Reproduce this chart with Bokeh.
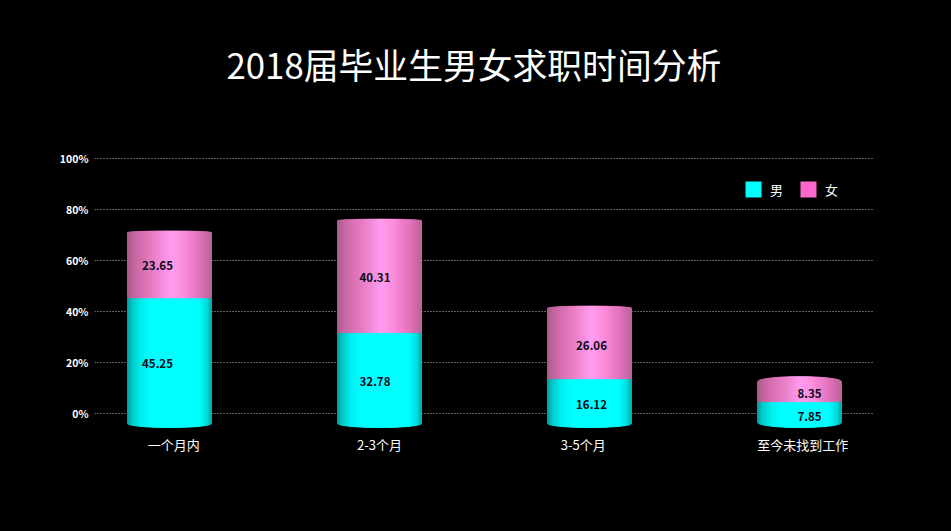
import numpy as np
from bokeh.plotting import figure
from bokeh.embed import file_html
from bokeh.resources import INLINE
from bokeh.models import Range1d, FixedTicker, Title, ColumnDataSource
from bokeh.core.properties import value

TITLE = "2018届毕业生男女求职时间分析"
categories = ["一个月内", "2-3个月", "3-5个月", "至今未找到工作"]
male = [45.25, 32.78, 16.12, 7.85]
female = [23.65, 40.31, 26.06, 8.35]
series_names = ["男", "女"]
y_ticks = [0, 20, 40, 60, 80, 100]
y_labels = ["0%", "20%", "40%", "60%", "80%", "100%"]

FONT = "Noto Sans CJK SC"
CYAN, PINK = "#00FFFF", "#FF66CC"

# page geometry of the frame
FX0, FX1, FY0, FY1 = 94, 873, 150, 429
W, H = 951, 531
STEP = 210.0            # px between cylinders
X0 = 169.0              # page x of first cylinder
BASE_Y = 427.0          # page y of value 0 on the cylinder scale
PX_PER_UNIT = 2.83      # cylinder scale
ZERO_Y, AXIS_PX = 412.5, 2.55   # percentage axis, so that grid rows fall on whole pixels
BAR_PX = 84.0
dome_px = [1.5, 1.5, 2.0, 5.0]
foot_px = [4.0, 4.0, 4.0, 5.0]
seam_lift_px = [1.5, 2.0, 3.0, 3.5]
label_shift_px = [-12, -4.5, 2, 10]
tick_shift = [0.02, 0.0, -0.03, 0.015]

p = figure(width=W, height=H, output_backend="svg", toolbar_location=None,
           x_range=Range1d((FX0 - X0) / STEP, (FX1 - X0) / STEP),
           y_range=Range1d((ZERO_Y - FY1) / AXIS_PX, (ZERO_Y - FY0) / AXIS_PX),
           min_border_left=FX0, min_border_right=W - FX1,
           min_border_top=FY0, min_border_bottom=H - FY1,
           background_fill_color=None, border_fill_color=None)
p.styles = {"background-color": "#000000"}
p.outline_line_color = None
p.extra_y_ranges = {"bars": Range1d((BASE_Y - FY1) / PX_PER_UNIT, (BASE_Y - FY0) / PX_PER_UNIT)}

# an empty title nearest the frame lifts the real one to its place
p.add_layout(Title(text=" ", text_font=FONT, text_font_size="38px", standoff=0), "above")
p.add_layout(Title(text=TITLE, align="left", offset=226 - FX0, text_color="#FFFFFF",
                   text_font=FONT, text_font_size="34.8px", text_font_style="normal"), "above")

# axes
p.xgrid.visible = False
p.ygrid.ticker = FixedTicker(ticks=y_ticks)
p.ygrid.grid_line_color = "#c0c0c0"
p.ygrid.grid_line_dash = "1 2"
p.ygrid.grid_line_width = 1

ya = p.yaxis[0]
ya.ticker = FixedTicker(ticks=y_ticks)
ya.major_label_overrides = {t: l for t, l in zip(y_ticks, y_labels)}
ya.axis_line_color = None
ya.major_tick_line_color = None
ya.minor_tick_line_color = None
ya.major_label_standoff = 0
ya.major_label_text_color = "#FFFFFF"
ya.major_label_text_font = FONT
ya.major_label_text_font_size = "10.5px"
ya.major_label_text_font_style = "bold"

xa = p.xaxis[0]
xt = [i + s for i, s in enumerate(tick_shift)]
xa.ticker = FixedTicker(ticks=xt)
xa.major_label_overrides = {t: c for t, c in zip(xt, categories)}
xa.axis_line_color = None
xa.major_tick_line_color = None
xa.minor_tick_line_color = None
xa.major_label_standoff = -1
xa.major_label_text_color = "#FFFFFF"
xa.major_label_text_font = FONT
xa.major_label_text_font_size = "13px"


def shade(stops, u):
    pos = [s[0] for s in stops]
    rgb = [[int(s[1][i:i + 2], 16) for s in stops] for i in (1, 3, 5)]
    return "#%02x%02x%02x" % tuple(int(round(np.interp(u, pos, c))) for c in rgb)


CYAN_STOPS = [(-1, "#009a9a"), (-0.88, "#00c8c8"), (-0.65, "#00f0f0"), (-0.4, "#00ffff"),
              (0.7, "#00ffff"), (0.9, "#00dcdc"), (1, "#00acac")]
PINK_STOPS = [(-1, "#a85a88"), (-0.8, "#c868a4"), (-0.4, "#e87cc4"), (0.05, "#ff9cf0"),
              (0.35, "#fc8cdc"), (0.75, "#e070b8"), (1, "#bc6498")]

# thin flat stacks, hidden inside the cylinders, carry the legend swatches
stack_src = ColumnDataSource(dict(x=list(range(len(categories))), 男=male, 女=female))
p.vbar_stack(series_names, x="x", width=0.02, color=[CYAN, PINK], line_color=None,
             source=stack_src, legend_label=series_names, y_range_name="bars")

N = int(BAR_PX)
edges = np.linspace(-1, 1, N + 1)
half = BAR_PX / 2 / STEP

xs, ys, cols = [], [], []
for i in range(len(categories)):
    dome = dome_px[i] / PX_PER_UNIT
    foot = foot_px[i] / PX_PER_UNIT
    seam = male[i] + seam_lift_px[i] / PX_PER_UNIT
    t = male[i] + female[i]
    for k in range(N):
        a, b = edges[k], edges[k + 1]
        sa, sb = np.sqrt(1 - a * a), np.sqrt(1 - b * b)
        xl, xr = i + a * half, i + b * half
        mid = (a + b) / 2
        xs.append([xl, xr, xr, xl])
        ys.append([foot * (1 - sa), foot * (1 - sb), seam, seam])
        cols.append(shade(CYAN_STOPS, mid))
        xs.append([xl, xr, xr, xl])
        ys.append([seam, seam, t + dome * sb, t + dome * sa])
        cols.append(shade(PINK_STOPS, mid))

p.patches(xs, ys, fill_color=cols, line_color=cols, line_width=1, y_range_name="bars")

# value labels
lab_x, lab_y, lab_t, lab_o = [], [], [], []
for i in range(len(categories)):
    lab_x += [i, i]
    lab_y += [male[i] / 2, male[i] + female[i] / 2]
    lab_t += ["%.2f" % male[i], "%.2f" % female[i]]
    lab_o += [label_shift_px[i]] * 2
p.text(x="x", y="y", text="t", x_offset="o", source=ColumnDataSource(dict(x=lab_x, y=lab_y, t=lab_t, o=lab_o)),
       y_range_name="bars", text_color="#0a0a1a", text_font=value(FONT), text_font_size="11.5px",
       text_font_style="bold", text_align="center", text_baseline="middle")

# legend
lg = p.legend[0]
lg.location = (743 - FX0, FY1 - 199)
lg.orientation = "horizontal"
lg.background_fill_alpha = 0
lg.border_line_color = None
lg.padding = 0
lg.margin = 0
lg.spacing = 8
lg.glyph_width = 20
lg.glyph_height = 20
lg.label_height = 20
lg.label_standoff = 7
lg.label_text_color = "#FFFFFF"
lg.label_text_font = FONT
lg.label_text_font_size = "13px"

html = file_html(p, INLINE)
html = html.replace("<body>", '<body style="background:#000000;margin:0;overflow:hidden">', 1)
open("out.html", "w").write(html)
